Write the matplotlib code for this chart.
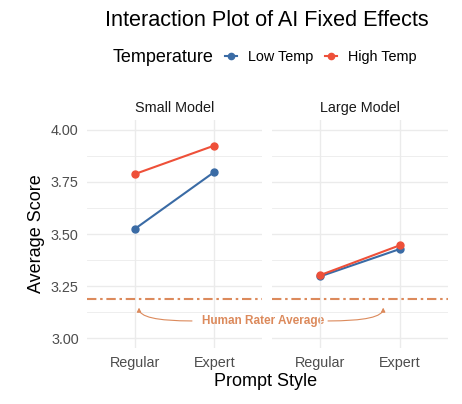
import matplotlib
matplotlib.use("Agg")
import matplotlib.pyplot as plt
from matplotlib.lines import Line2D

plt.rcParams['font.family'] = ['Liberation Sans', 'DejaVu Sans']

# ---- data ----
prompt_styles = ["Regular", "Expert"]
panels = ["Small Model", "Large Model"]
temps = ["Low Temp", "High Temp"]
small_low = [3.524, 3.798]
small_high = [3.788, 3.925]
large_low = [3.296, 3.428]
large_high = [3.302, 3.446]
human_avg = 3.189
y_ticks = [3.00, 3.25, 3.50, 3.75, 4.00]
y_minor = [3.125, 3.375, 3.625, 3.875]

colors = {"Low Temp": "#3A6BA5", "High Temp": "#EE5039"}
orange = "#DC8A5C"
grid_c = "#EBEBEB"

W, H = 462, 404
fig = plt.figure(figsize=(W / 100, H / 100), dpi=100)

def px_axes(x0, x1, y0, y1):
    return fig.add_axes([x0 / W, 1 - y1 / H, (x1 - x0) / W, (y1 - y0) / H])

ax1 = px_axes(87, 262, 120, 348)
ax2 = px_axes(272, 448, 120, 348)

data = {
    "Small Model": {"Low Temp": small_low, "High Temp": small_high},
    "Large Model": {"Low Temp": large_low, "High Temp": large_high},
}
xpos = list(range(1, len(prompt_styles) + 1))

for ax, panel in zip([ax1, ax2], panels):
    ax.set_facecolor('none')
    ax.set_xlim(0.4, 2.6)
    ax.set_ylim(2.952, 4.048)
    for s in ax.spines.values():
        s.set_visible(False)
    ax.set_yticks(y_ticks)
    ax.set_yticks(y_minor, minor=True)
    ax.set_xticks(xpos)
    ax.set_xticklabels(prompt_styles)
    ax.tick_params(length=0, which='both', colors="#4D4D4D", labelsize=10.4, pad=6)
    ax.grid(True, which='major', color=grid_c, lw=1.0)
    ax.grid(True, which='minor', axis='y', color=grid_c, lw=0.6)
    ax.set_axisbelow(True)
    for t in temps:
        ax.plot(xpos, data[panel][t], color=colors[t], lw=1.5, marker='o',
                markersize=5, zorder=3)
    ln = ax.axhline(human_avg, color=orange, lw=1.5, zorder=2)
    ln.set_dashes([4.5, 1.8, 1.2, 1.8])
    ax.set_title(panel, fontsize=10.4, color="#1A1A1A", pad=6)

ax1.set_yticklabels([f"{v:.2f}" for v in y_ticks])
ax2.tick_params(labelleft=False)
ax1.set_ylabel("Average Score", fontsize=13, labelpad=4)

# annotation
ax1.text(2.613, 3.082, "Human Rater Average", color=orange, fontsize=8.5,
         fontweight='bold', ha='center', va='center', clip_on=False, zorder=5)
ax1.annotate("", xy=(1.054, 3.146), xytext=(1.72, 3.082),
             arrowprops=dict(arrowstyle='-|>', color=orange, lw=0.8,
                             mutation_scale=6, shrinkA=0, shrinkB=0,
                             connectionstyle="angle3,angleA=0,angleB=90"),
             annotation_clip=False)
ax2.annotate("", xy=(1.79, 3.146), xytext=(1.1, 3.082),
             arrowprops=dict(arrowstyle='-|>', color=orange, lw=0.8,
                             mutation_scale=6, shrinkA=0, shrinkB=0,
                             connectionstyle="angle3,angleA=0,angleB=90"),
             annotation_clip=False)

# x label
fig.text(266 / W, 1 - 382 / H, "Prompt Style", fontsize=13, ha='center', va='center')

# title
fig.text(267 / W, 1 - 20 / H, "Interaction Plot of AI Fixed Effects", fontsize=15.6,
         ha='center', va='center')

# legend
fig.text(113 / W, 1 - 57 / H, "Temperature", fontsize=13, ha='left', va='center')
handles = [Line2D([], [], color=colors[t], lw=1.5, marker='o', markersize=4.5) for t in temps]
fig.legend(handles, temps, ncol=2, loc='center left',
           bbox_to_anchor=(225 / W, 1 - 57 / H), frameon=False, fontsize=10.4,
           handlelength=0.85, handletextpad=0.75, columnspacing=0.8,
           borderpad=0, borderaxespad=0)

fig.savefig("out.png", dpi=100, facecolor="white")
